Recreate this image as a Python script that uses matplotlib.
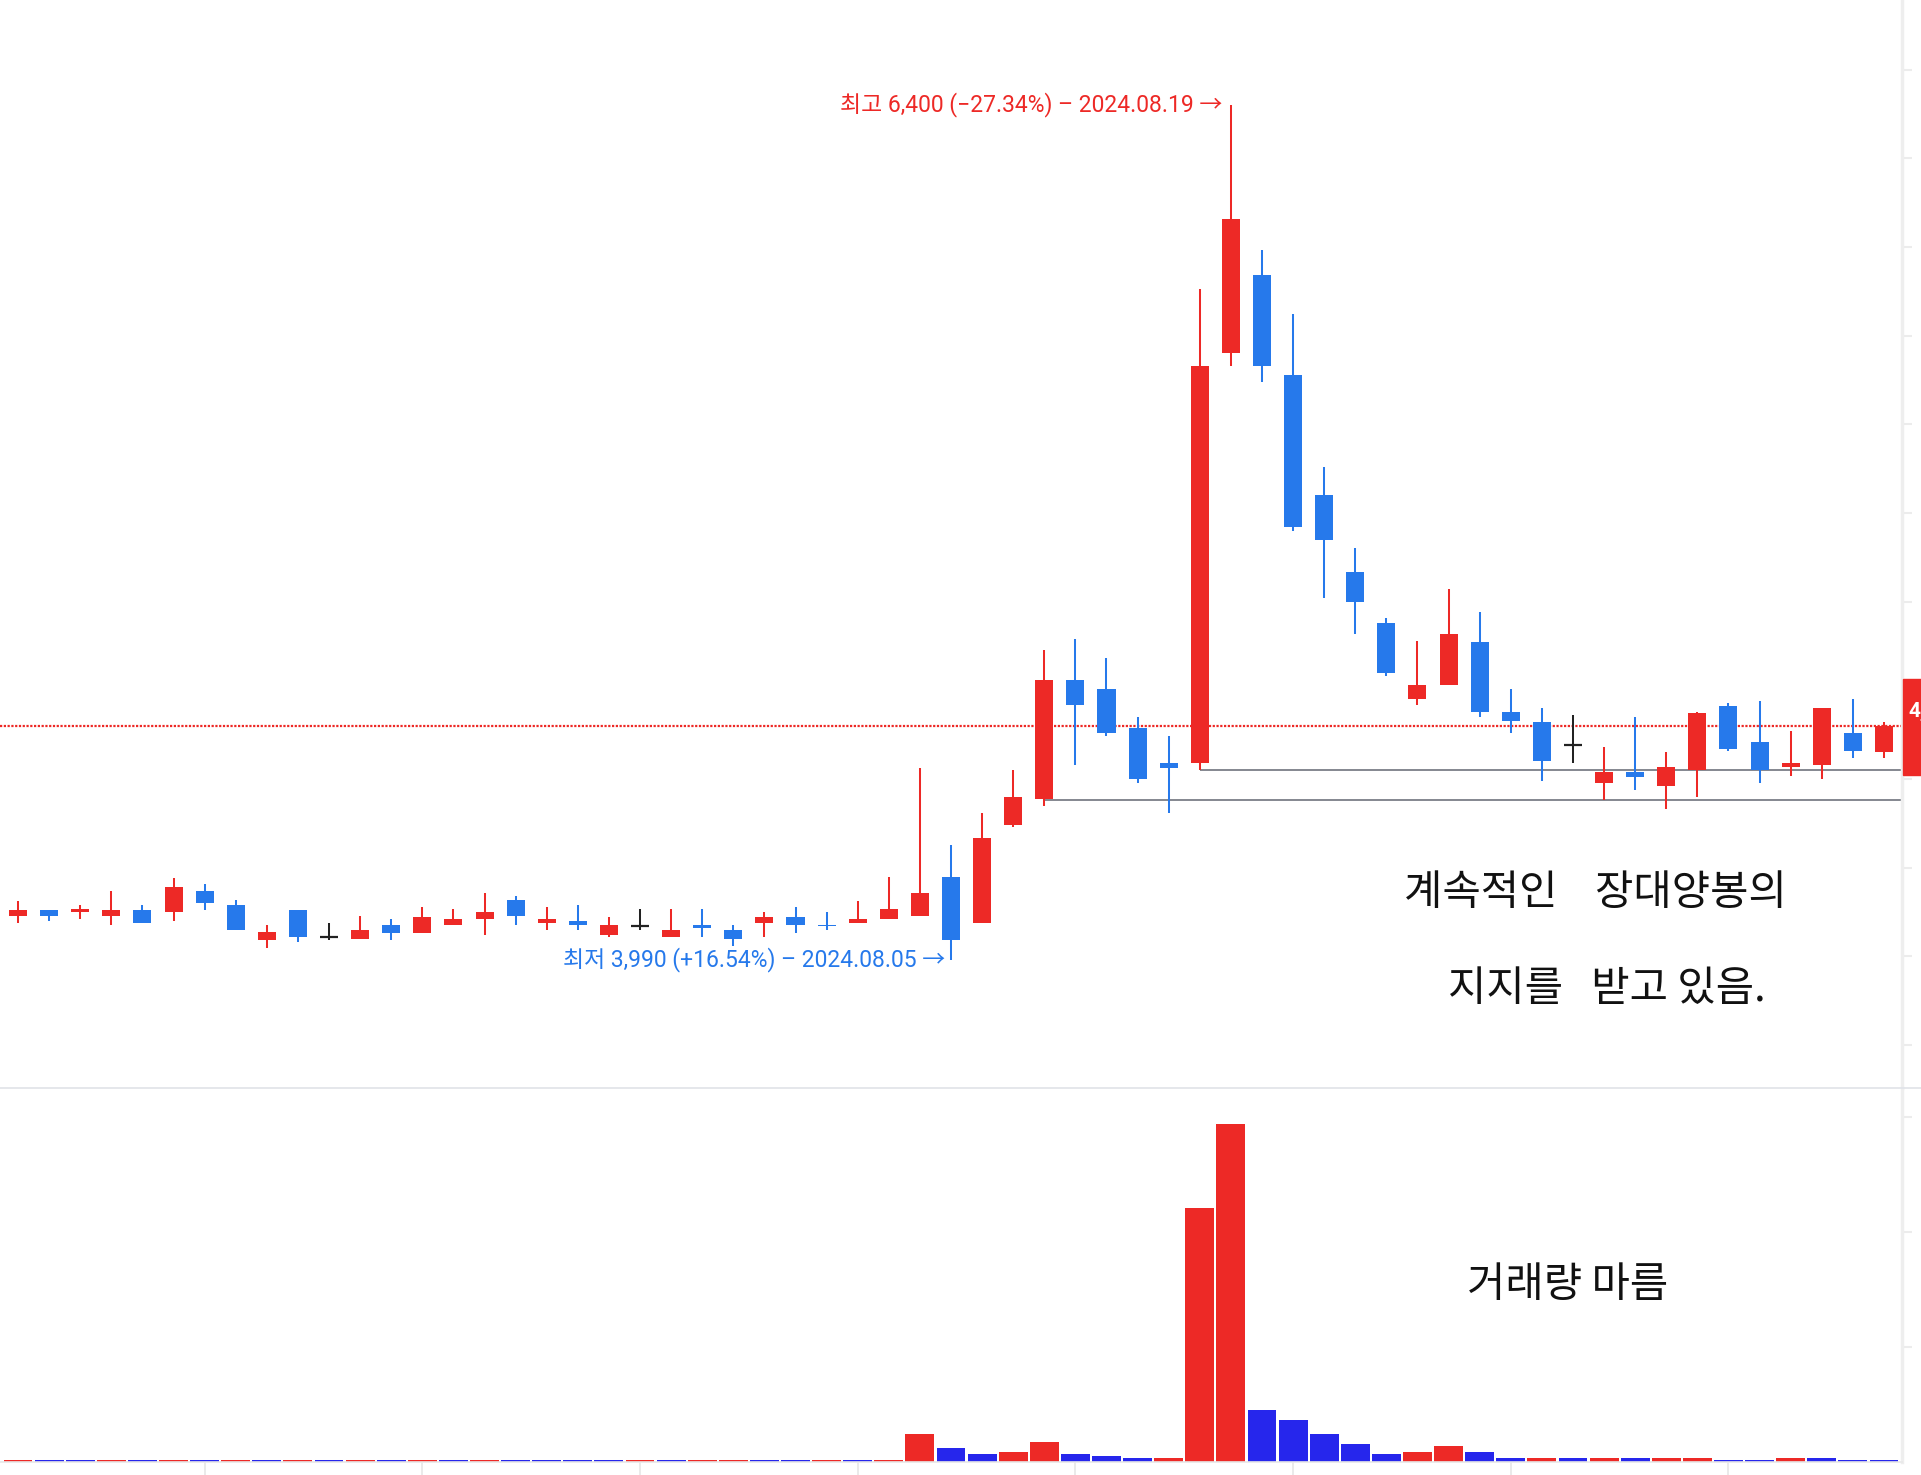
import numpy as np
import matplotlib.pyplot as plt
from matplotlib.patches import Rectangle
from matplotlib.lines import Line2D

plt.rcParams['font.family'] = ['Noto Sans CJK KR', 'DejaVu Sans']

# 일봉 데이터 (원) - 61 거래일, 인덱스 30 = 2024.08.05, 39 = 2024.08.19
opens = [4115, 4130, 4125, 4115, 4130, 4125, 4185, 4145, 4045, 4130,
         4055, 4050, 4090, 4065, 4090, 4105, 4160, 4095, 4100, 4060,
         4085, 4055, 4090, 4075, 4095, 4110, 4090, 4095, 4105, 4115,
         4225, 4095, 4370, 4445, 4780, 4755, 4645, 4545, 4545, 5700,
         5920, 5640, 5300, 5085, 4940, 4725, 4765, 4885, 4690, 4660,
         4595, 4490, 4520, 4480, 4525, 4705, 4605, 4535, 4540, 4630,
         4575]
highs = [4155, 4130, 4145, 4185, 4145, 4220, 4205, 4160, 4090, 4130,
         4095, 4115, 4105, 4140, 4135, 4180, 4170, 4140, 4145, 4110,
         4135, 4135, 4135, 4090, 4125, 4140, 4125, 4155, 4225, 4530,
         4315, 4405, 4525, 4865, 4895, 4840, 4675, 4620, 5880, 6400,
         5990, 5810, 5380, 5150, 4955, 4890, 5035, 4970, 4755, 4700,
         4680, 4590, 4675, 4575, 4690, 4715, 4720, 4635, 4700, 4725,
         4660]
lows = [4095, 4100, 4105, 4090, 4095, 4100, 4130, 4075, 4025, 4040,
        4045, 4050, 4045, 4065, 4090, 4060, 4090, 4075, 4075, 4055,
        4075, 4055, 4055, 4030, 4055, 4065, 4075, 4095, 4105, 4115,
        3990, 4095, 4365, 4425, 4540, 4620, 4490, 4405, 4525, 5665,
        5620, 5200, 5010, 4910, 4790, 4710, 4765, 4675, 4630, 4495,
        4545, 4440, 4470, 4415, 4450, 4580, 4490, 4510, 4500, 4560,
        4560]
closes = [4130, 4115, 4135, 4130, 4095, 4195, 4150, 4075, 4070, 4055,
          4055, 4075, 4065, 4110, 4105, 4125, 4115, 4105, 4090, 4090,
          4085, 4075, 4080, 4050, 4110, 4090, 4085, 4105, 4135, 4180,
          4045, 4335, 4450, 4780, 4710, 4630, 4500, 4530, 5665, 6080,
          5665, 5210, 5175, 5000, 4800, 4765, 4910, 4690, 4665, 4550,
          4595, 4520, 4505, 4535, 4685, 4585, 4525, 4545, 4700, 4580,
          4650]
volumes = [17500, 16200, 15100, 17800, 16000, 18300, 16100, 17400, 15900, 17600,
           15800, 17300, 16000, 18100, 16300, 17900, 17000, 16400, 15800, 15200,
           17100, 16200, 16900, 17700, 16500, 15600, 17200, 15300, 17400, 244000,
           122000, 70000, 87000, 174000, 70000, 52000, 35000, 36000, 2210000, 2940000,
           452000, 365000, 244000, 157000, 70000, 87000, 139000, 87000, 35000, 36000,
           34000, 36000, 34000, 36000, 38000, 18000, 17000, 35000, 34000, 17000,
           16000]

last_price = 4650
price_ticks = list(range(3750, 6501, 250))
vol_ticks = [1000000, 2000000, 3000000]
date_tick_idx = [6, 13, 20, 27, 34, 41, 48, 55]
# 지지선: (시작 봉, 가격)
supports = [(33, 4440), (38, 4525)]

high_label = '최고 6,400 (−27.34%) – 2024.08.19 →'
low_label = '최저 3,990 (+16.54%) – 2024.08.05 →'
note1 = '계속적인    장대양봉의'
note2 = '지지를   받고 있음.'
note3 = '거래량 마름'

RED = '#ED2926'
BLUE = '#2679EB'
VBLUE = '#2626EC'
GRID = '#ececec'
LABEL_FONT = ['Roboto', 'Noto Sans CJK KR', 'DejaVu Sans']

W, H = 1921, 1475
fig = plt.figure(figsize=(W / 100, H / 100), dpi=100)
ax = fig.add_axes([0, 1 - 1088 / H, 1902 / W, 1088 / H])
axv = fig.add_axes([0, 1 - 1462 / H, 1902 / W, (1462 - 1088) / H])

n = len(opens)
x = np.arange(n)

# 캔들
for i in range(n):
    o, h, l, c = opens[i], highs[i], lows[i], closes[i]
    if c > o:
        col = RED
    elif c < o:
        col = BLUE
    else:
        col = '#222222'
    ax.vlines(i, l, h, color=col, lw=1.45, zorder=3)
    if c == o:
        ax.hlines(o, i - 0.29, i + 0.29, color=col, lw=1.6, zorder=3)
    else:
        ax.bar(i, abs(c - o), bottom=min(o, c), width=0.58, color=col,
               zorder=3, linewidth=0)

ax.set_xlim(-0.58, 60.58)
ax.set_ylim(3629.2, 6696)

# 현재가 점선, 지지선
ax.axhline(last_price, color=RED, lw=1.6, linestyle=(0, (1, 0.7)), zorder=1)
for start, p in supports:
    ax.hlines(p, start, 60.58, color='#7b7e87', lw=1.3, zorder=2)

hi = int(np.argmax(highs))
lo = int(np.argmin(lows))
ax.annotate(high_label, xy=(hi, highs[hi]), xytext=(-6, 0),
            textcoords='offset points', ha='right', va='center',
            color=RED, fontsize=16.5, family=LABEL_FONT)
ax.annotate(low_label, xy=(lo, lows[lo]), xytext=(-4, 0),
            textcoords='offset points', ha='right', va='center',
            color=BLUE, fontsize=16.5, family=LABEL_FONT)

ax.yaxis.tick_right()
ax.set_yticks(price_ticks)
ax.set_xticks([])
ax.tick_params(axis='y', length=7, width=1.5, color=GRID, labelright=False)
for s in ['top', 'left']:
    ax.spines[s].set_visible(False)
ax.spines['right'].set_color('#eeeeee')
ax.spines['right'].set_linewidth(2.5)
ax.spines['bottom'].set_visible(False)

# 거래량 (전일 대비 증가 빨강, 감소 파랑)
vcols = []
for i in range(n):
    if i == 0 or volumes[i] >= volumes[i - 1]:
        vcols.append(RED)
    else:
        vcols.append(VBLUE)
axv.bar(x, volumes, width=0.93, color=vcols, linewidth=0)
axv.set_xlim(-0.58, 60.58)
axv.set_ylim(0, 3252000)
axv.yaxis.tick_right()
axv.set_yticks(vol_ticks)
axv.set_xticks(date_tick_idx)
axv.tick_params(axis='y', length=7, width=1.5, color=GRID, labelright=False)
axv.tick_params(axis='x', length=9, width=1.2, color='#e6e6e6', labelbottom=False)
for s in ['top', 'left']:
    axv.spines[s].set_visible(False)
axv.spines['right'].set_color('#eeeeee')
axv.spines['right'].set_linewidth(2.5)
axv.spines['bottom'].set_color('#e8e8e8')
axv.spines['bottom'].set_linewidth(1.2)

# 패널 구분선
fig.add_artist(Line2D([0, 1], [1 - 1088 / H] * 2, color='#e0e3e8', lw=1.2))

# 우측 현재가 라벨 (가장자리에서 잘림)
fig.add_artist(Rectangle((1903 / W, 1 - 775 / H), 18 / W, 96 / H,
                         transform=fig.transFigure, color=RED))
fig.text(1908 / W, 1 - 711 / H, f'{last_price:,}', color='white', fontsize=15,
         ha='left', va='center', fontweight='bold', family=LABEL_FONT)

# 손글씨 메모
fig.text(1595 / W, 1 - 894 / H, note1, ha='center', va='center', fontsize=30, color='#111111')
fig.text(1607 / W, 1 - 990 / H, note2, ha='center', va='center', fontsize=30, color='#111111')
fig.text(1568 / W, 1 - 1286 / H, note3, ha='center', va='center', fontsize=30, color='#111111')

fig.savefig('out.png', dpi=100)
